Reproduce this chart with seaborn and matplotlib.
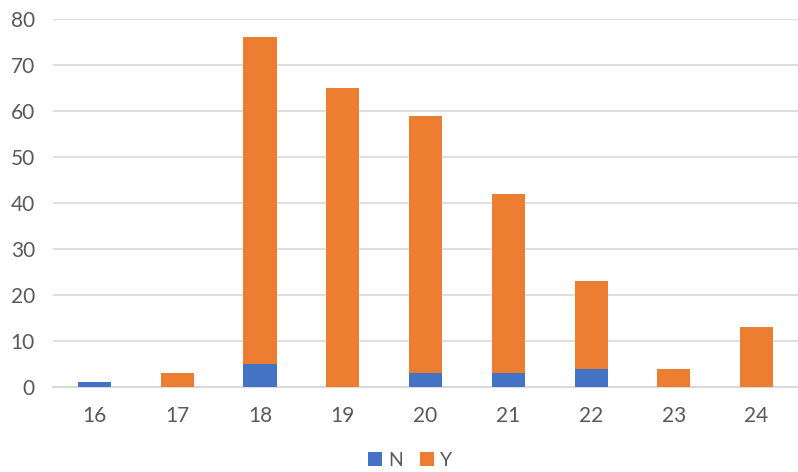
import matplotlib
matplotlib.use("Agg")
import matplotlib.pyplot as plt
from matplotlib.patches import Patch
import numpy as np
import pandas as pd
import seaborn as sns

# Counts per age, split by answer
ages = ["16", "17", "18", "19", "20", "21", "22", "23", "24"]
n_counts = [1, 0, 5, 0, 3, 3, 4, 0, 0]
y_counts = [0, 3, 71, 65, 56, 39, 19, 4, 13]
series_labels = ["N", "Y"]
y_ticks = [0, 10, 20, 30, 40, 50, 60, 70, 80]

blue = "#4472C4"
orange = "#ED7D31"
text_gray = "#595959"
grid_gray = "#D9D9D9"

df = pd.DataFrame({"age": ages, "N": n_counts, "Y": y_counts})
df["total"] = df["N"] + df["Y"]

sns.set_theme(style="white")
plt.rcParams["font.family"] = ["Lato", "DejaVu Sans"]

fig = plt.figure(figsize=(7.98, 4.72), dpi=100)
ax = fig.add_axes([53 / 798, 1 - 387 / 472, 745 / 798, 368 / 472])

# Stacked bars: full height in orange, N portion drawn over it in blue
sns.barplot(data=df, x="age", y="total", color=orange, width=0.4,
            saturation=1, linewidth=0, ax=ax, zorder=3)
sns.barplot(data=df, x="age", y="N", color=blue, width=0.4,
            saturation=1, linewidth=0, ax=ax, zorder=4)

ax.set_ylim(0, 80)
ax.set_xlim(-0.5, len(ages) - 0.5)
ax.set_yticks(y_ticks)
ax.set_xlabel("")
ax.set_ylabel("")
ax.yaxis.grid(True, color=grid_gray, linewidth=1.2, zorder=0)
ax.set_axisbelow(True)
for side in ["top", "right", "left"]:
    ax.spines[side].set_visible(False)
ax.spines["bottom"].set_color(grid_gray)
ax.spines["bottom"].set_linewidth(1.5)
ax.tick_params(axis="both", length=0, labelsize=15, colors=text_gray)
ax.tick_params(axis="y", pad=13)
ax.tick_params(axis="x", pad=14)

handles = [Patch(facecolor=blue, edgecolor="none"),
           Patch(facecolor=orange, edgecolor="none")]
fig.legend(handles, series_labels, loc="center", bbox_to_anchor=(410 / 798, 1 - 460 / 472),
           ncol=2, frameon=False, fontsize=14, handlelength=0.7, handleheight=0.7,
           handletextpad=0.3, columnspacing=0.9, borderpad=0.1, labelcolor=text_gray)

fig.savefig("out.png", dpi=100)
